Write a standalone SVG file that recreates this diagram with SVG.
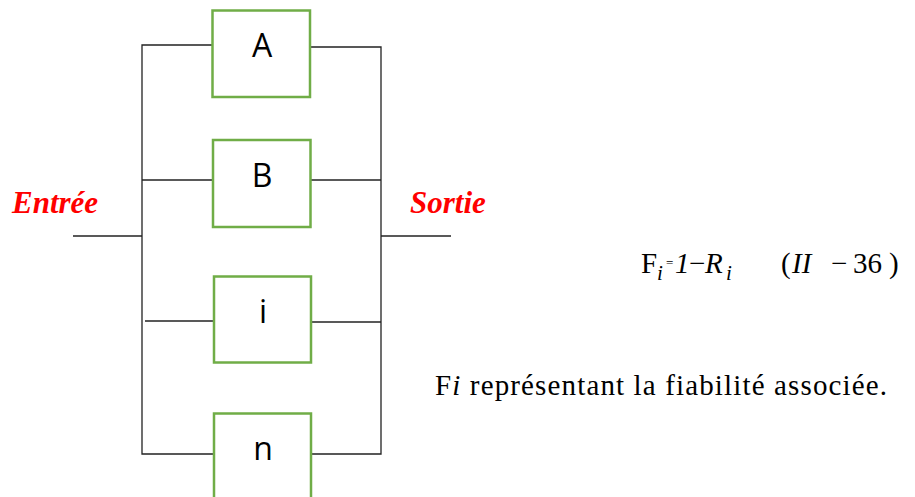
<svg xmlns="http://www.w3.org/2000/svg" width="915" height="497" viewBox="0 0 915 497">
  <style>
    .box { fill: #ffffff; stroke: #70ad47; stroke-width: 2.5; }
    .wire { fill: none; stroke: #222222; stroke-width: 1.3; }
    .lbl { font-family: "Open Sans", "Liberation Sans", sans-serif; font-size: 32px; fill: #000000; text-anchor: middle; }
    .io { font-family: "Liberation Serif", serif; font-size: 31px; font-weight: bold; font-style: italic; fill: #ff0000; }
    .math { font-family: "Liberation Serif", "DejaVu Serif", serif; font-size: 29px; fill: #000000; }
    .it { font-style: italic; }
    .txt { font-family: "Liberation Serif", serif; font-size: 29px; fill: #000000; }
  </style>

  <!-- connectors: input bus, output bus and branch wires -->
  <g id="connectors">
    <polyline class="wire" points="212,45 142,45 142,454 213,454"/>
    <line class="wire" x1="142" y1="180" x2="213" y2="180"/>
    <line class="wire" x1="145" y1="321" x2="214" y2="321"/>
    <line class="wire" x1="73" y1="236" x2="142" y2="236"/>
    <polyline class="wire" points="310,47 381,47 381,454 311,454"/>
    <line class="wire" x1="310" y1="180" x2="381" y2="180"/>
    <line class="wire" x1="311" y1="322" x2="381" y2="322"/>
    <line class="wire" x1="381" y1="236" x2="451" y2="236"/>
  </g>

  <g id="node-A">
    <rect class="box" x="212.5" y="10.5" width="97.5" height="86.5"/>
    <text class="lbl" x="262" y="57">A</text>
  </g>
  <g id="node-B">
    <rect class="box" x="213" y="140" width="97.5" height="87"/>
    <text class="lbl" x="262" y="187">B</text>
  </g>
  <g id="node-i">
    <rect class="box" x="214" y="276.5" width="97" height="86"/>
    <text class="lbl" x="263" y="323">i</text>
  </g>
  <g id="node-n">
    <rect class="box" x="214" y="413.5" width="97" height="86"/>
    <text class="lbl" x="263" y="460">n</text>
  </g>

  <text id="entree" class="io" x="12" y="213">Entrée</text>
  <text id="sortie" class="io" x="410" y="213">Sortie</text>

  <!-- reliability relation -->
  <g id="formula" class="math">
    <text x="641" y="273">F</text>
    <text class="it" x="657" y="280" font-size="21">i</text>
    <text x="666" y="267" font-size="13">=</text>
    <text class="it" x="675" y="273">1</text>
    <text x="689" y="273">−</text>
    <text class="it" x="705" y="273">R</text>
    <text class="it" x="726" y="280" font-size="21">i</text>
    <text x="781" y="273">(</text>
    <text class="it" x="792" y="273">II</text>
    <text x="831" y="273">−</text>
    <text x="853" y="273">36</text>
    <text x="889" y="273">)</text>
  </g>

  <text id="caption" class="txt" x="435" y="395" textLength="452" lengthAdjust="spacing">F<tspan class="it">i</tspan> représentant la fiabilité associée.</text>
</svg>
